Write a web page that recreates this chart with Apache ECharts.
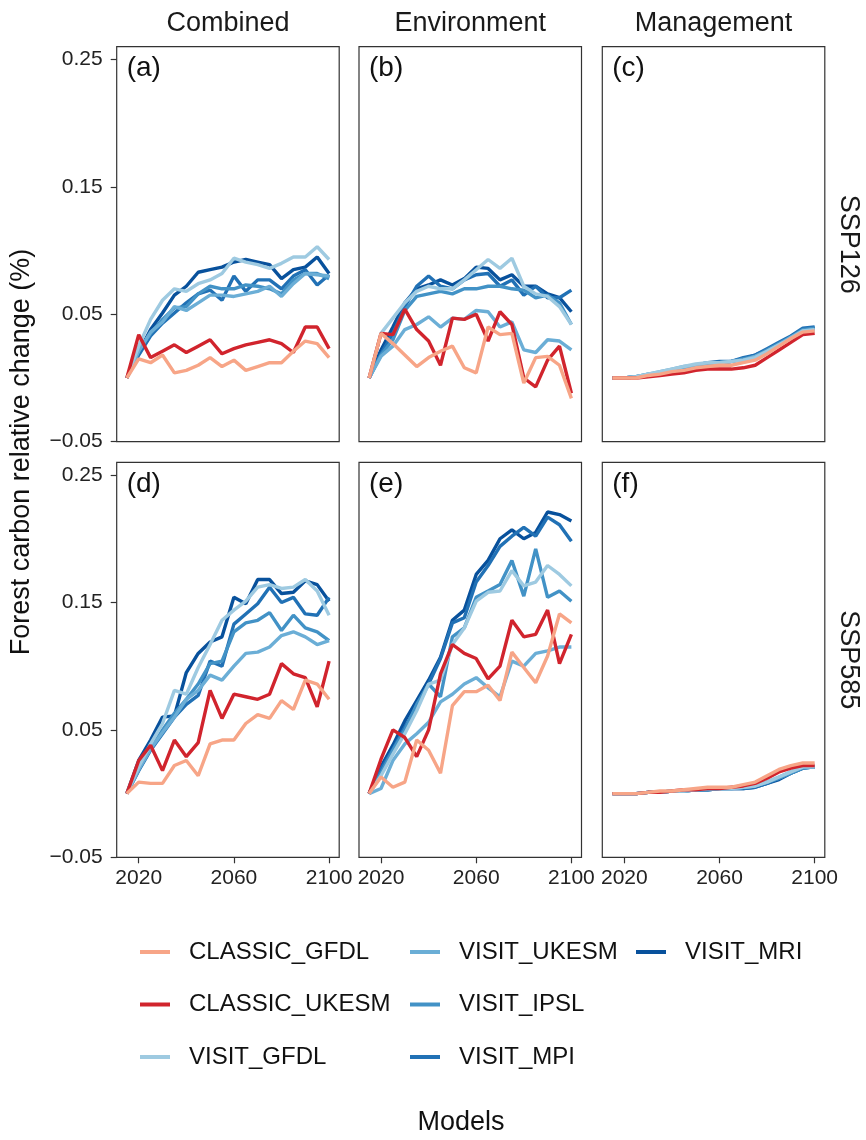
<!DOCTYPE html>
<html>
<head>
<meta charset="utf-8">
<script src="https://cdn.jsdelivr.net/npm/echarts@6/dist/echarts.min.js"></script>
<style>
  html, body { margin: 0; padding: 0; background: #fff; }
  #chart { width: 866px; height: 1140px; }
</style>
</head>
<body>
<div id="chart"></div>
<script>
const years = [2015, 2020, 2025, 2030, 2035, 2040, 2045, 2050, 2055, 2060, 2065, 2070, 2075, 2080, 2085, 2090, 2095, 2100];
const models = ['CLASSIC_GFDL', 'CLASSIC_UKESM', 'VISIT_GFDL', 'VISIT_UKESM', 'VISIT_IPSL', 'VISIT_MPI', 'VISIT_MRI'];
const colors = ['#F7A587', '#D1242D', '#9ECAE1', '#6BAED6', '#4292C6', '#2171B5', '#08519C'];
const columnLabels = ['Combined', 'Environment', 'Management'];
const rowLabels = ['SSP126', 'SSP585'];
const panelTags = ['(a)', '(b)', '(c)', '(d)', '(e)', '(f)'];
const xTicks = [2020, 2060, 2100];
const yTicks = [-0.05, 0.05, 0.15, 0.25];

// rows follow the order of models
const combined126 = [
  [0, 0.015, 0.012, 0.018, 0.004, 0.006, 0.010, 0.016, 0.009, 0.014, 0.006, 0.009, 0.012, 0.012, 0.021, 0.029, 0.027, 0.016],
  [0, 0.034, 0.016, 0.021, 0.026, 0.020, 0.025, 0.030, 0.019, 0.023, 0.026, 0.028, 0.030, 0.027, 0.020, 0.040, 0.040, 0.023],
  [0, 0.025, 0.046, 0.061, 0.070, 0.068, 0.074, 0.077, 0.082, 0.094, 0.091, 0.089, 0.086, 0.090, 0.095, 0.095, 0.103, 0.093],
  [0, 0.021, 0.036, 0.044, 0.056, 0.053, 0.059, 0.065, 0.065, 0.064, 0.066, 0.068, 0.072, 0.064, 0.074, 0.082, 0.081, 0.080],
  [0, 0.022, 0.035, 0.046, 0.055, 0.056, 0.066, 0.072, 0.070, 0.070, 0.073, 0.072, 0.070, 0.066, 0.077, 0.082, 0.082, 0.078],
  [0, 0.018, 0.033, 0.043, 0.051, 0.059, 0.066, 0.069, 0.061, 0.080, 0.068, 0.077, 0.077, 0.070, 0.080, 0.085, 0.073, 0.081],
  [0, 0.020, 0.038, 0.051, 0.065, 0.072, 0.083, 0.085, 0.087, 0.091, 0.093, 0.091, 0.089, 0.078, 0.085, 0.087, 0.095, 0.082]
];
const environment126 = [
  [0, 0.035, 0.027, 0.018, 0.009, 0.016, 0.021, 0.025, 0.008, 0.004, 0.040, 0.034, 0.035, -0.004, 0.016, 0.017, 0.010, -0.016],
  [0, 0.035, 0.034, 0.054, 0.038, 0.029, 0.010, 0.047, 0.046, 0.050, 0.029, 0.052, 0.042, 0.000, -0.007, 0.014, 0.025, -0.012],
  [0, 0.035, 0.047, 0.059, 0.068, 0.072, 0.070, 0.070, 0.077, 0.085, 0.093, 0.086, 0.094, 0.072, 0.066, 0.064, 0.056, 0.042],
  [0, 0.017, 0.025, 0.038, 0.042, 0.048, 0.040, 0.047, 0.046, 0.053, 0.052, 0.040, 0.044, 0.022, 0.020, 0.030, 0.029, 0.022],
  [0, 0.018, 0.030, 0.053, 0.064, 0.066, 0.068, 0.066, 0.070, 0.070, 0.072, 0.072, 0.070, 0.069, 0.063, 0.065, 0.059, 0.042],
  [0, 0.019, 0.035, 0.056, 0.072, 0.080, 0.072, 0.070, 0.077, 0.081, 0.082, 0.072, 0.077, 0.065, 0.072, 0.063, 0.063, 0.069],
  [0, 0.022, 0.040, 0.059, 0.070, 0.073, 0.077, 0.073, 0.078, 0.087, 0.086, 0.077, 0.081, 0.072, 0.072, 0.066, 0.063, 0.052]
];
const management126 = [
  [0, 0, 0, 0.002, 0.003, 0.005, 0.006, 0.008, 0.009, 0.010, 0.010, 0.012, 0.014, 0.019, 0.025, 0.031, 0.036, 0.037],
  [0, 0, 0, 0.001, 0.002, 0.003, 0.004, 0.006, 0.007, 0.007, 0.007, 0.008, 0.010, 0.016, 0.022, 0.028, 0.034, 0.035],
  [0, 0, 0.001, 0.003, 0.005, 0.007, 0.009, 0.011, 0.012, 0.012, 0.013, 0.014, 0.016, 0.021, 0.026, 0.031, 0.037, 0.038],
  [0, 0, 0.001, 0.003, 0.005, 0.007, 0.009, 0.010, 0.012, 0.012, 0.013, 0.014, 0.017, 0.021, 0.026, 0.032, 0.037, 0.038],
  [0, 0, 0.001, 0.003, 0.004, 0.006, 0.008, 0.010, 0.011, 0.012, 0.013, 0.015, 0.017, 0.022, 0.027, 0.032, 0.038, 0.039],
  [0, 0, 0.001, 0.002, 0.004, 0.006, 0.008, 0.010, 0.012, 0.013, 0.013, 0.016, 0.018, 0.023, 0.028, 0.033, 0.039, 0.040],
  [0, 0, 0.001, 0.002, 0.004, 0.006, 0.008, 0.010, 0.011, 0.012, 0.013, 0.015, 0.018, 0.022, 0.027, 0.032, 0.038, 0.039]
];
const combined585 = [
  [0, 0.009, 0.008, 0.008, 0.022, 0.026, 0.014, 0.039, 0.042, 0.042, 0.055, 0.062, 0.059, 0.073, 0.066, 0.089, 0.086, 0.074],
  [0, 0.026, 0.038, 0.018, 0.042, 0.029, 0.040, 0.081, 0.059, 0.078, 0.076, 0.074, 0.078, 0.102, 0.094, 0.091, 0.068, 0.104],
  [0, 0.021, 0.039, 0.055, 0.081, 0.078, 0.099, 0.117, 0.136, 0.144, 0.151, 0.162, 0.164, 0.161, 0.162, 0.168, 0.159, 0.140],
  [0, 0.019, 0.035, 0.048, 0.060, 0.074, 0.081, 0.093, 0.089, 0.100, 0.110, 0.111, 0.115, 0.124, 0.127, 0.123, 0.117, 0.120],
  [0, 0.019, 0.035, 0.050, 0.063, 0.074, 0.086, 0.102, 0.104, 0.127, 0.134, 0.136, 0.142, 0.128, 0.140, 0.130, 0.127, 0.120],
  [0, 0.018, 0.034, 0.047, 0.060, 0.070, 0.077, 0.104, 0.100, 0.133, 0.141, 0.149, 0.162, 0.150, 0.154, 0.141, 0.140, 0.154],
  [0, 0.026, 0.042, 0.060, 0.061, 0.095, 0.110, 0.119, 0.123, 0.154, 0.149, 0.168, 0.168, 0.157, 0.158, 0.167, 0.164, 0.151]
];
const environment585 = [
  [0, 0.013, 0.005, 0.009, 0.042, 0.034, 0.016, 0.069, 0.080, 0.080, 0.085, 0.073, 0.111, 0.099, 0.087, 0.108, 0.141, 0.134],
  [0, 0.027, 0.050, 0.044, 0.029, 0.050, 0.094, 0.117, 0.110, 0.106, 0.090, 0.100, 0.136, 0.123, 0.125, 0.144, 0.102, 0.125],
  [0, 0.014, 0.031, 0.047, 0.065, 0.086, 0.089, 0.117, 0.130, 0.151, 0.158, 0.159, 0.175, 0.163, 0.166, 0.179, 0.172, 0.163],
  [0, 0.004, 0.026, 0.039, 0.047, 0.056, 0.072, 0.078, 0.086, 0.091, 0.083, 0.076, 0.104, 0.100, 0.110, 0.112, 0.115, 0.115],
  [0, 0.016, 0.034, 0.050, 0.070, 0.086, 0.076, 0.123, 0.130, 0.154, 0.159, 0.164, 0.183, 0.155, 0.192, 0.154, 0.159, 0.151],
  [0, 0.019, 0.035, 0.052, 0.068, 0.086, 0.106, 0.134, 0.138, 0.166, 0.179, 0.194, 0.202, 0.209, 0.202, 0.217, 0.211, 0.198],
  [0, 0.021, 0.038, 0.057, 0.073, 0.089, 0.107, 0.136, 0.144, 0.172, 0.183, 0.200, 0.207, 0.200, 0.205, 0.221, 0.219, 0.214]
];
const management585 = [
  [0, 0, 0, 0.001, 0.002, 0.002, 0.003, 0.004, 0.005, 0.005, 0.005, 0.007, 0.009, 0.014, 0.019, 0.022, 0.024, 0.024],
  [0, 0, 0, 0.001, 0.001, 0.002, 0.003, 0.003, 0.004, 0.004, 0.005, 0.006, 0.008, 0.012, 0.017, 0.020, 0.022, 0.022],
  [0, 0, 0, 0.001, 0.001, 0.002, 0.002, 0.003, 0.004, 0.004, 0.004, 0.005, 0.006, 0.009, 0.013, 0.017, 0.021, 0.021],
  [0, 0, 0, 0.001, 0.001, 0.002, 0.002, 0.003, 0.004, 0.004, 0.004, 0.005, 0.006, 0.009, 0.013, 0.017, 0.021, 0.021],
  [0, 0, 0, 0.001, 0.001, 0.002, 0.002, 0.003, 0.003, 0.004, 0.004, 0.005, 0.006, 0.009, 0.012, 0.016, 0.020, 0.021],
  [0, 0, 0, 0.001, 0.001, 0.002, 0.002, 0.003, 0.003, 0.004, 0.004, 0.004, 0.005, 0.008, 0.012, 0.016, 0.020, 0.021],
  [0, 0, 0, 0.001, 0.001, 0.002, 0.002, 0.003, 0.003, 0.004, 0.004, 0.004, 0.005, 0.008, 0.011, 0.016, 0.020, 0.021]
];
const panels = [combined126, environment126, management126, combined585, environment585, management585];

const FONT = '"Liberation Sans", Arial, sans-serif';
const colLefts = [116.7, 359, 602.3];
const rowTops = [46.7, 462.3];
const panelW = 222.5;
const panelH = 395;

const fmtY = v => (v < 0 ? '\u2212' + (-v).toFixed(2) : v.toFixed(2));

const grids = [];
const xAxes = [];
const yAxes = [];
const series = [];
const graphics = [];

panels.forEach((panel, p) => {
  const r = Math.floor(p / 3);
  const c = p % 3;
  grids.push({
    left: colLefts[c], top: rowTops[r], width: panelW, height: panelH,
    show: true, borderColor: '#333', borderWidth: 1.2, backgroundColor: 'transparent'
  });
  xAxes.push({
    gridIndex: p, type: 'value', min: 2010.75, max: 2104.25,
    axisLine: {show: false, onZero: false}, splitLine: {show: false},
    axisTick: {show: r === 1, length: 6, customValues: xTicks, lineStyle: {color: '#333', width: 1.2}},
    axisLabel: {show: r === 1, customValues: xTicks, margin: 10, fontSize: 21, color: '#222', fontFamily: FONT, formatter: v => String(v)}
  });
  yAxes.push({
    gridIndex: p, type: 'value', min: -0.05, max: 0.26,
    axisLine: {show: false, onZero: false}, splitLine: {show: false},
    axisTick: {show: c === 0, length: 6, customValues: yTicks, lineStyle: {color: '#333', width: 1.2}},
    axisLabel: {show: c === 0, customValues: yTicks, margin: 14, fontSize: 21, color: '#222', fontFamily: FONT, formatter: fmtY}
  });
  // draw the darkest model first so CLASSIC_GFDL ends up on top
  for (let m = models.length - 1; m >= 0; m--) {
    series.push({
      type: 'line', name: models[m], xAxisIndex: p, yAxisIndex: p,
      data: years.map((y, i) => [y, panel[m][i]]),
      showSymbol: false, symbol: 'none', color: colors[m],
      itemStyle: {color: colors[m]},
      lineStyle: {width: 3.4, color: colors[m]},
      emphasis: {disabled: true}
    });
  }
  graphics.push({
    type: 'text', x: colLefts[c] + 10, y: rowTops[r] + 22,
    style: {text: panelTags[p], font: '28px ' + FONT, fill: '#111', textAlign: 'left', textVerticalAlign: 'middle', align: 'left', verticalAlign: 'middle'}
  });
});

columnLabels.forEach((t, c) => {
  graphics.push({
    type: 'text', x: colLefts[c] + panelW / 2, y: 24,
    style: {text: t, font: '27px ' + FONT, fill: '#1a1a1a', textAlign: 'center', textVerticalAlign: 'middle', align: 'center', verticalAlign: 'middle'}
  });
});
rowLabels.forEach((t, r) => {
  graphics.push({
    type: 'text', x: 848, y: rowTops[r] + panelH / 2, rotation: -Math.PI / 2,
    style: {text: t, font: '27px ' + FONT, fill: '#1a1a1a', textAlign: 'center', textVerticalAlign: 'middle', align: 'center', verticalAlign: 'middle'}
  });
});
graphics.push({
  type: 'text', x: 22, y: 452, rotation: Math.PI / 2,
  style: {text: 'Forest carbon relative change (%)', font: '27px ' + FONT, fill: '#111', textAlign: 'center', textVerticalAlign: 'middle', align: 'center', verticalAlign: 'middle'}
});
graphics.push({
  type: 'text', x: 461, y: 1123,
  style: {text: 'Models', font: '27px ' + FONT, fill: '#111', textAlign: 'center', textVerticalAlign: 'middle', align: 'center', verticalAlign: 'middle'}
});

const legendBase = {
  orient: 'vertical', icon: 'rect', itemWidth: 30, itemHeight: 4, itemGap: 28.5,
  padding: 0, selectedMode: false,
  textStyle: {fontSize: 24, lineHeight: 24, color: '#111', fontFamily: FONT, padding: [0, 0, 0, 14]}
};

const chart = echarts.init(document.getElementById('chart'));
chart.setOption({
  animation: false,
  backgroundColor: '#fff',
  grid: grids,
  xAxis: xAxes,
  yAxis: yAxes,
  series: series,
  legend: [
    Object.assign({}, legendBase, {left: 140, top: 940, data: models.slice(0, 3)}),
    Object.assign({}, legendBase, {left: 410, top: 940, data: models.slice(3, 6)}),
    Object.assign({}, legendBase, {left: 636, top: 940, data: models.slice(6)})
  ],
  graphic: graphics
});
</script>
</body>
</html>
